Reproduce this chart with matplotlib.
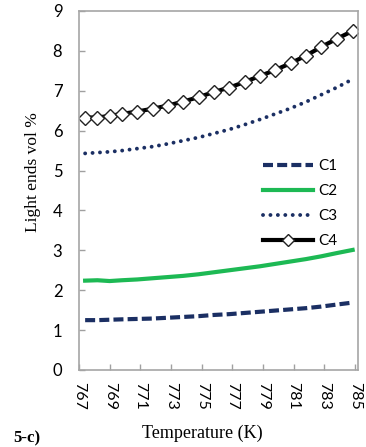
import matplotlib
matplotlib.use("Agg")
import matplotlib.pyplot as plt

temps = [767.4, 768.2, 769.0, 769.8, 770.8, 771.8, 772.8, 773.8, 774.8, 775.8,
         776.8, 777.8, 778.8, 779.8, 780.8, 781.8, 782.8, 783.8, 784.85]
c1 = [1.25, 1.25, 1.26, 1.27, 1.28, 1.29, 1.31, 1.33, 1.35, 1.38,
      1.40, 1.43, 1.46, 1.49, 1.52, 1.55, 1.59, 1.64, 1.69]
c2 = [2.24, 2.25, 2.23, 2.25, 2.27, 2.30, 2.33, 2.36, 2.40, 2.45,
      2.50, 2.55, 2.60, 2.66, 2.72, 2.78, 2.85, 2.93, 3.01]
c3 = [5.43, 5.45, 5.47, 5.50, 5.55, 5.60, 5.67, 5.75, 5.83, 5.93,
      6.03, 6.15, 6.28, 6.42, 6.56, 6.72, 6.90, 7.08, 7.29]
c4 = [6.33, 6.33, 6.37, 6.42, 6.48, 6.55, 6.63, 6.73, 6.84, 6.97,
      7.08, 7.22, 7.37, 7.52, 7.69, 7.88, 8.10, 8.30, 8.50]
xticks = [767, 769, 771, 773, 775, 777, 779, 781, 783, 785]
yticks = [0, 1, 2, 3, 4, 5, 6, 7, 8, 9]

W, H = 366, 447
fig = plt.figure(figsize=(W/100, H/100), dpi=100)
ax = fig.add_axes([79/W, 1-370/H, (358-79)/W, (370-11)/H])

navy = "#1b2f63"
ax.plot(temps, c1, color=navy, lw=3, ls=(0, (2.4, 1.0)), label="C1")
ax.plot(temps, c2, color="#1db954", lw=3, label="C2")
ax.plot(temps, c3, color=navy, lw=2.8, ls=(0, (0.01, 1.9)), dash_capstyle="round", label="C3")
ax.plot(temps, c4, color="black", lw=3, marker="D", ms=7, mfc="white", mec="#222222",
        mew=1.0, label="C4")

ax.set_xlim(767, 785.2)
ax.set_ylim(0, 9)
ax.set_xticks(xticks)
ax.set_yticks(yticks)
ax.set_xticklabels([str(t) for t in xticks], rotation=270, family="Lato", fontsize=11.5)
ax.set_yticklabels([str(t) for t in yticks], family="Lato", fontsize=12)
ax.tick_params(direction="in", length=4, color="#a0a0a0", width=1)
ax.tick_params(axis="x", pad=9)
ax.tick_params(axis="y", pad=12)
for s in ax.spines.values():
    s.set_color("#a6a6a6")
    s.set_linewidth(1.2)

ax.set_xlabel("Temperature (K)", family="Liberation Serif", fontsize=13)
ax.xaxis.set_label_coords((202-79)/279, (370-433)/359)
ax.xaxis.label.set_va("center")
ax.set_ylabel("Light ends vol %", family="Liberation Serif", fontsize=12.5)
ax.yaxis.set_label_coords((33-79)/279, (370-172)/359)
ax.yaxis.label.set_va("center")

leg = ax.legend(loc="center left", bbox_to_anchor=((263-79)/279, (370-204)/359),
                frameon=False, prop={"family": "Lato", "size": 11}, handlelength=3.3,
                handletextpad=0.3, labelspacing=0.72, borderaxespad=0, borderpad=0)
for h in leg.legend_handles:
    if h.get_marker() == "D":
        h.set_markersize(6)
fig.text(13/W, 1-446/H, "5-c)", family="Liberation Serif", fontweight="bold",
         fontsize=12, va="bottom", ha="left")

fig.savefig("out.png", dpi=100)
